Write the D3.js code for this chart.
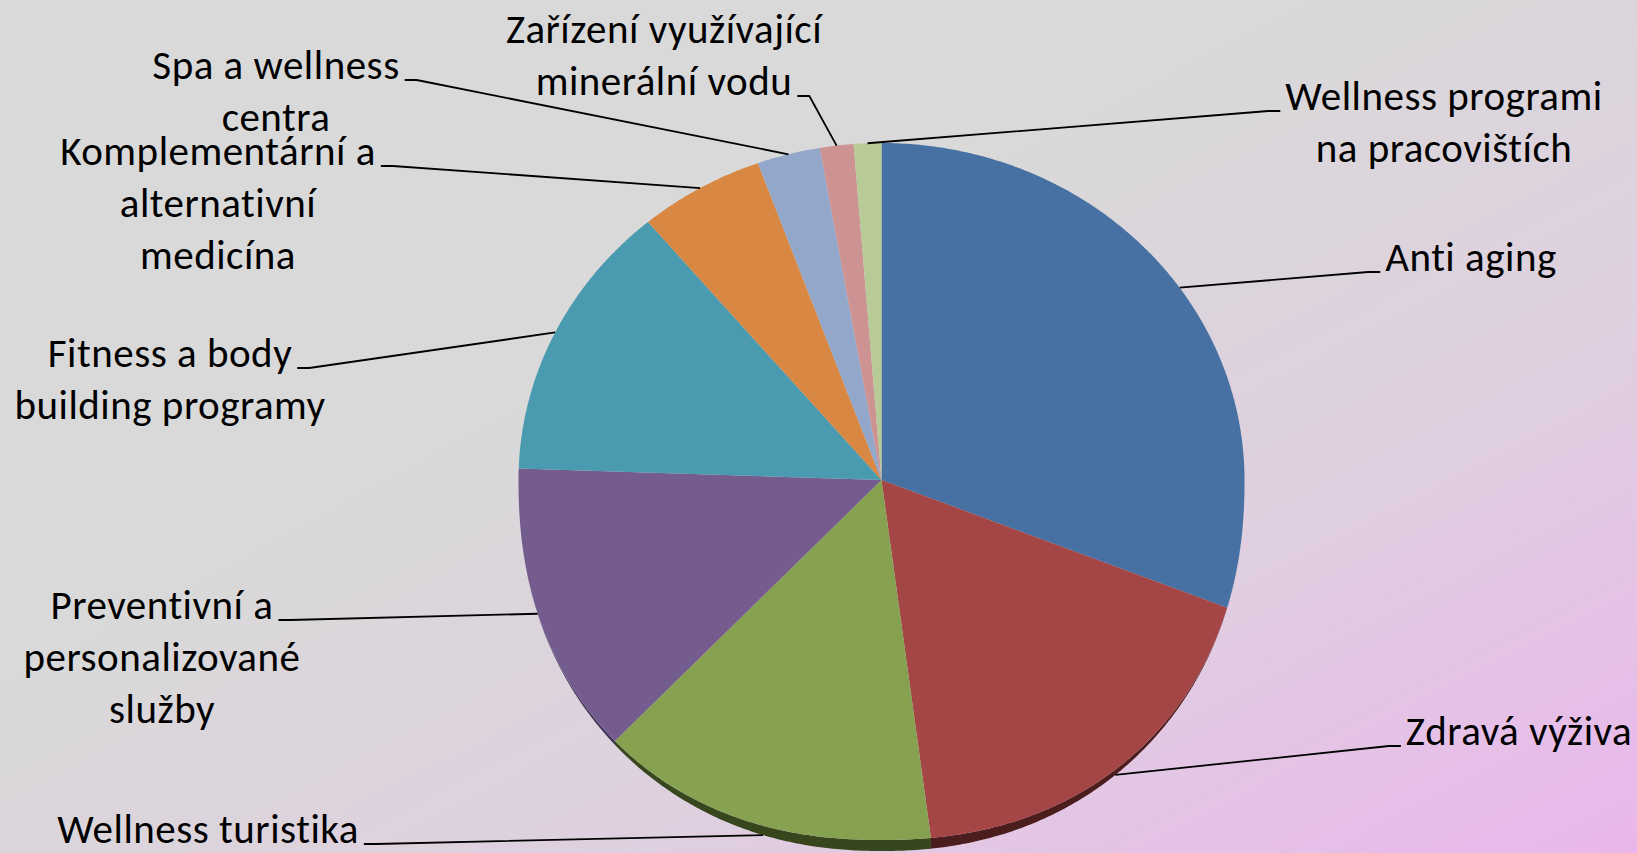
<!DOCTYPE html>
<html>
<head>
<meta charset="utf-8">
<script src="https://cdn.jsdelivr.net/npm/d3@7"></script>
<style>
  html, body { margin: 0; padding: 0; overflow: hidden; }
  svg { display: block; }
  .label { font-family: Carlito, Calibri, Lato, sans-serif; font-size: 41px; letter-spacing: 0.5px; fill: #000; }
</style>
</head>
<body>
<svg id="chart"></svg>
<script>
// wellness market segments, clockwise from 12 o'clock
var categories = ["Anti aging", "Zdravá výživa", "Wellness turistika",
  "Preventivní a personalizované služby", "Fitness a body building programy",
  "Komplementární a alternativní medicína", "Spa a wellness centra",
  "Zařízení využívající minerální vodu", "Wellness programi na pracovištích"];
var labelLines = [["Anti aging"], ["Zdravá výživa"], ["Wellness turistika"],
  ["Preventivní a", "personalizované", "služby"], ["Fitness a body", "building programy"],
  ["Komplementární a", "alternativní", "medicína"], ["Spa a wellness", "centra"],
  ["Zařízení využívající", "minerální vodu"], ["Wellness programi", "na pracovištích"]];
var values = [1026, 574, 494, 433, 446, 187, 94, 50, 41];

var faceColors = ["#4671a2", "#a34645", "#86a150", "#745d8e", "#4a9ab0", "#d88843", "#93a7ca", "#cd9393", "#b8cb96"];
var sideColors = ["#2a4462", "#4b1d1c", "#37461d", "#3f3257", "#2a5a68", "#7a4a20", "#56657f", "#7a5050", "#6d7a55"];

var width = 1637, height = 853;
var cx = 881.5, cy = 480;
var rx = 363, ryTop = 337, ryBottom = 360, bottomPower = 2.2, depth = 11;
var lineHeight = 52, gap = 5, seg = 12;

// where each label sits: centre x, first baseline, line the leader meets, side the leader comes from
var labelLayout = [
  {x: 1471, y: 271, line: 0, side: "left"},
  {x: 1519, y: 745, line: 0, side: "left"},
  {x: 208, y: 843, line: 0, side: "right"},
  {x: 162, y: 619, line: 0, side: "right"},
  {x: 170, y: 367, line: 0, side: "right"},
  {x: 218, y: 165, line: 0, side: "right"},
  {x: 276, y: 79, line: 0, side: "right"},
  {x: 664, y: 43, line: 1, side: "right"},
  {x: 1444, y: 110, line: 0, side: "left"}
];

var svg = d3.select("#chart").attr("width", width).attr("height", height);

var defs = svg.append("defs");
var bg = defs.append("linearGradient").attr("id", "bg")
  .attr("x1", 0).attr("y1", 0).attr("x2", 1).attr("y2", 1);
bg.append("stop").attr("offset", "0%").attr("stop-color", "#d9d9d9");
bg.append("stop").attr("offset", "40%").attr("stop-color", "#d9d9d9");
bg.append("stop").attr("offset", "70%").attr("stop-color", "#dfcfe0");
bg.append("stop").attr("offset", "100%").attr("stop-color", "#eab6ec");

svg.append("rect").attr("width", width).attr("height", height).attr("fill", "url(#bg)");

// point on the rim of the tilted pie (angle clockwise from top)
function edge(a) {
  var s = Math.sin(a), c = -Math.cos(a);
  if (c <= 0) return [cx + rx * s, cy + ryTop * c];
  var r = Math.pow(Math.pow(Math.abs(s), bottomPower) + Math.pow(c, bottomPower), -1 / bottomPower);
  return [cx + rx * s * r, cy + ryBottom * c * r];
}
function drop(a) {
  var c = -Math.cos(a);
  return c > 0 ? depth * c * c * c : 0;
}
function arcPoints(a0, a1) {
  var n = Math.max(2, Math.ceil((a1 - a0) / (Math.PI / 360)));
  return d3.range(n + 1).map(function(i) { return a0 + (a1 - a0) * i / n; });
}

var line = d3.line();
var pie = d3.pie().sort(null).value(function(d) { return d; });
var arcs = pie(values);

// side of the pie (only the near half shows)
var sides = svg.append("g");
arcs.forEach(function(d, i) {
  var a0 = Math.max(d.startAngle, Math.PI / 2), a1 = Math.min(d.endAngle, 3 * Math.PI / 2);
  if (a1 <= a0) return;
  var angles = arcPoints(a0, a1);
  var top = angles.map(edge);
  var bottom = angles.map(function(a) { var p = edge(a); return [p[0], p[1] + drop(a)]; }).reverse();
  sides.append("path")
    .attr("d", line(top.concat(bottom)) + "Z")
    .attr("fill", sideColors[i]);
});

// top faces
svg.append("g").selectAll("path")
  .data(arcs)
  .join("path")
  .attr("d", function(d) {
    return line([[cx, cy]].concat(arcPoints(d.startAngle, d.endAngle).map(edge))) + "Z";
  })
  .attr("fill", function(d, i) { return faceColors[i]; });

// labels
var labels = svg.append("g").selectAll("text")
  .data(labelLayout)
  .join("text")
  .attr("class", "label")
  .attr("text-anchor", "middle");

labels.each(function(l, i) {
  var t = d3.select(this);
  labelLines[i].forEach(function(s, k) {
    t.append("tspan").attr("x", l.x).attr("y", l.y + k * lineHeight).text(s);
  });
});

// leader lines
var leaders = svg.append("g");
labels.each(function(l, i) {
  var w = this.childNodes[l.line].getComputedTextLength();
  var m = (arcs[i].startAngle + arcs[i].endAngle) / 2;
  var p = edge(m);
  p[1] += drop(m);
  var ly = l.y + l.line * lineHeight + 1;
  var endX = l.side === "right" ? l.x + w / 2 + gap : l.x - w / 2 - gap;
  var elbowX = l.side === "right" ? endX + seg : endX - seg;
  leaders.append("path")
    .attr("d", line([p, [elbowX, ly], [endX, ly]]))
    .attr("fill", "none")
    .attr("stroke", "#000")
    .attr("stroke-width", 1.8);
});
</script>
</body>
</html>
